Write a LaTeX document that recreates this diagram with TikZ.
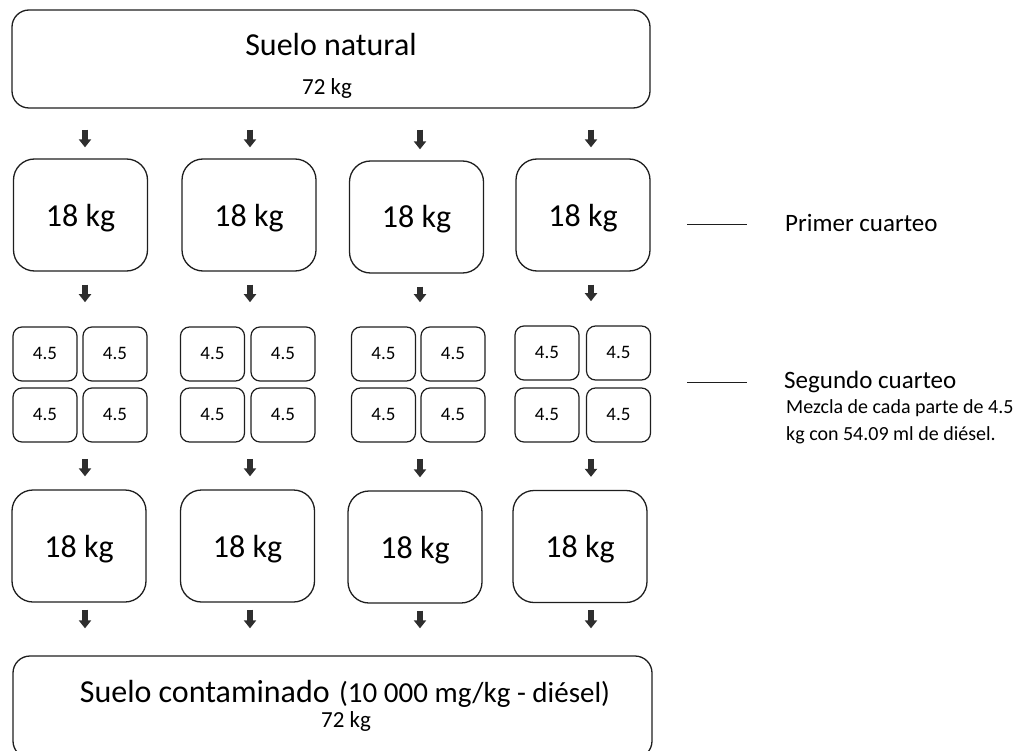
\documentclass[tikz,border=0pt]{standalone}
\usepackage{fontspec}
\setmainfont{Carlito}
\usetikzlibrary{arrows.meta,fit}
\definecolor{edge}{HTML}{1E1E1E}
\definecolor{arrowc}{HTML}{2E2E2E}
\begin{document}
\begin{tikzpicture}[x=1pt,y=-1pt,
  bigbox/.style={draw=edge, line width=1.3pt, rounded corners=17pt, inner sep=0pt, minimum width=638pt},
  midbox/.style={draw=edge, line width=1.3pt, rounded corners=21pt, inner sep=0pt,
    minimum width=134pt, minimum height=112pt, font=\fontsize{32}{38}\selectfont,
    text height=22pt, text depth=0pt},
  smallbox/.style={draw=edge, line width=1.2pt, rounded corners=9pt, inner sep=0pt,
    minimum width=64pt, minimum height=54pt, font=\fontsize{19}{23}\selectfont,
    text height=10pt, text depth=0pt},
  grp/.style={inner sep=0pt, draw=none},
  arr/.style={draw=arrowc, line width=5.5pt, -{Triangle[width=12pt,length=8pt]}},
  sidetext/.style={anchor=base west, inner sep=0pt, font=\fontsize{25}{30}\selectfont},
  notetext/.style={anchor=base west, inner sep=0pt, font=\fontsize{20}{24}\selectfont},
  tick/.style={draw=edge, line width=0.9pt},
  title/.style={anchor=base, inner sep=0pt, font=\fontsize{32}{38}\selectfont},
  sub/.style={anchor=base, inner sep=0pt, font=\fontsize{23}{28}\selectfont}
]
\useasboundingbox (0,0) rectangle (1016,751);
\clip (0,0) rectangle (1016,751);

% top box
\node[bigbox, minimum height=98pt] (top) at (331,59) {};
\node[title] (toptitle) at (331,56) {Suelo natural};
\node[sub] (topsub) at (327,95) {72 kg};

% first quartering
\node[midbox] (r1a) at (80.5,215) {18 kg};
\node[midbox] (r1b) at (249,215) {18 kg};
\node[midbox] (r1c) at (416.5,217) {18 kg};
\node[midbox] (r1d) at (583,215) {18 kg};

% second quartering grids
\node[smallbox] (s1a) at (45,354) {4.5};
\node[smallbox] (s1b) at (115,354) {4.5};
\node[smallbox] (s1c) at (45,415) {4.5};
\node[smallbox] (s1d) at (115,415) {4.5};
\node[smallbox] (s2a) at (212.5,354) {4.5};
\node[smallbox] (s2b) at (283,354) {4.5};
\node[smallbox] (s2c) at (212.5,415) {4.5};
\node[smallbox] (s2d) at (283,415) {4.5};
\node[smallbox] (s3a) at (383.5,354) {4.5};
\node[smallbox] (s3b) at (453,354) {4.5};
\node[smallbox] (s3c) at (383.5,415) {4.5};
\node[smallbox] (s3d) at (453,415) {4.5};
\node[smallbox] (s4a) at (547,353) {4.5};
\node[smallbox] (s4b) at (618.5,353) {4.5};
\node[smallbox] (s4c) at (547,415) {4.5};
\node[smallbox] (s4d) at (618.5,415) {4.5};
\node[grp, fit=(s1a)(s1d)] (g1) {};
\node[grp, fit=(s2a)(s2d)] (g2) {};
\node[grp, fit=(s3a)(s3d)] (g3) {};
\node[grp, fit=(s4a)(s4d)] (g4) {};

% recombined
\node[midbox] (r3a) at (79,546) {18 kg};
\node[midbox] (r3b) at (247.5,546) {18 kg};
\node[midbox, minimum height=112pt] (r3c) at (415,547) {18 kg};
\node[midbox] (r3d) at (580,546.5) {18 kg};

% bottom box
\node[bigbox, minimum height=102pt, minimum width=639pt] (bot) at (332.5,707) {};
\node[title, anchor=base east] (bottitle) at (330,702) {Suelo contaminado};
\node[anchor=base west, inner sep=0pt, font=\fontsize{29}{34}\selectfont] (botpar) at (339,702) {(10 000 mg/kg - diésel)};
\node[sub] (botsub) at (346,727) {72 kg};

% arrow columns
\coordinate (ax1) at (85,0);
\coordinate (ax2) at (250,0);
\coordinate (ax3) at (420,0);
\coordinate (ax4) at (591,0);

\foreach \c/\a/\g/\b in {1/r1a/g1/r3a, 2/r1b/g2/r3b, 3/r1c/g3/r3c, 4/r1d/g4/r3d}{
  \draw[arr, shorten <=21pt, shorten >=11pt] (top.south -| ax\c) -- (\a.north -| ax\c);
  \draw[arr, shorten <=13pt, shorten >=24pt] (\a.south -| ax\c) -- (\g.north -| ax\c);
  \draw[arr, shorten <=16pt, shorten >=13pt] (\g.south -| ax\c) -- (\b.north -| ax\c);
  \draw[arr, shorten <=7pt, shorten >=27pt] (\b.south -| ax\c) -- (bot.north -| ax\c);
}

% side labels
\node[sidetext] (primer) at (785,232) {Primer cuarteo};
\node[sidetext] (segundo) at (784,388) {Segundo cuarteo};
\node[notetext] (mezcla1) at (786,413) {Mezcla de cada parte de 4.5};
\node[notetext] (mezcla2) at (786,440) {kg con 54.09 ml de diésel.};
\coordinate (t1) at (687,224);
\coordinate (t2) at (687,382);
\draw[tick] (t1) -- ++(60,0);
\draw[tick] (t2) -- ++(60,0);
\end{tikzpicture}
\end{document}
